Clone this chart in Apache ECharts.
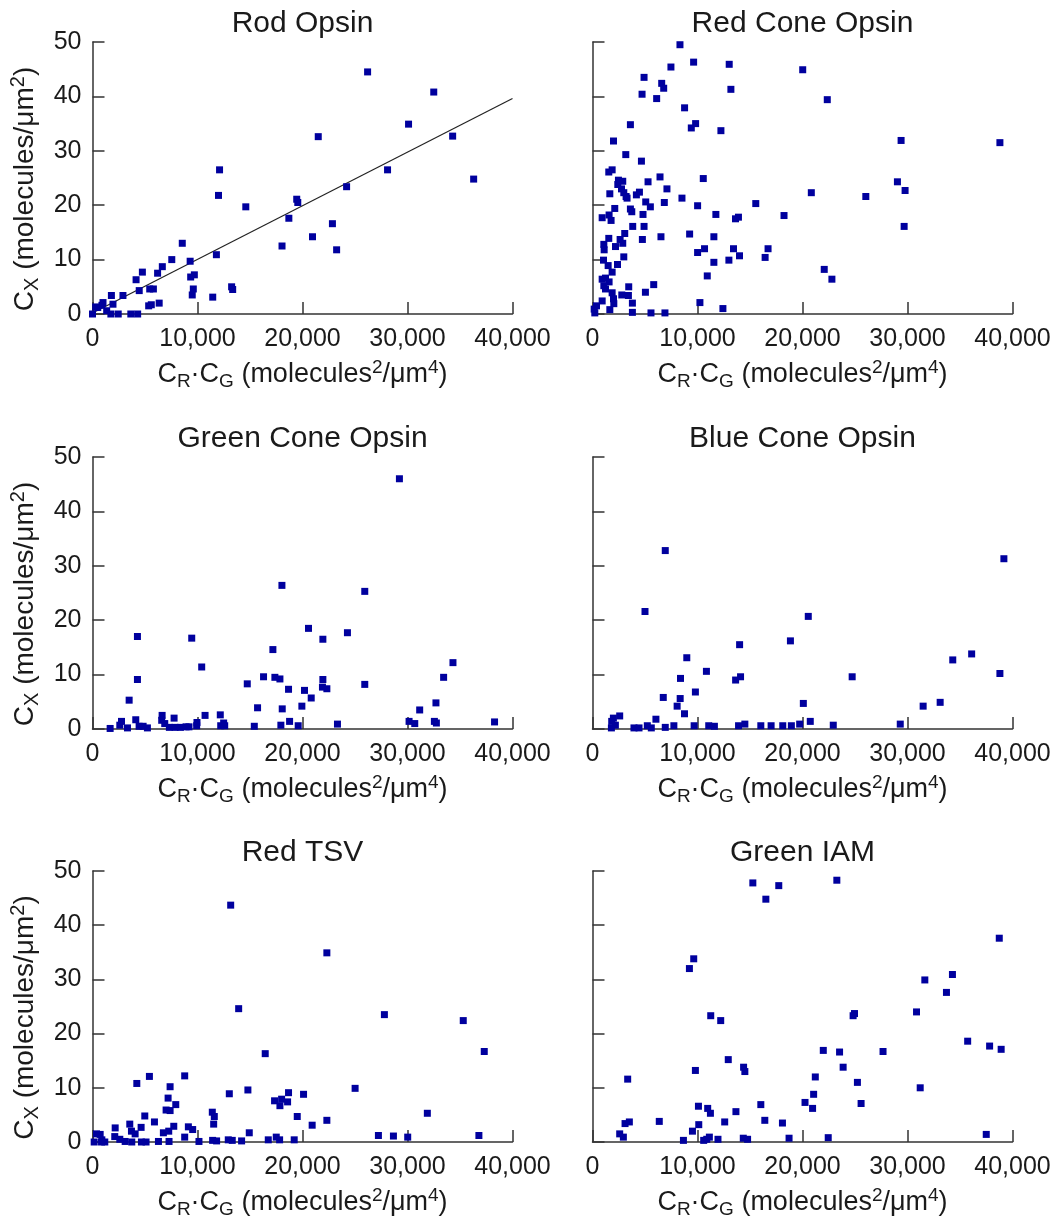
<!DOCTYPE html>
<html>
<head>
<meta charset="utf-8">
<script src="https://cdn.jsdelivr.net/npm/echarts@6/dist/echarts.min.js"></script>
<style>
html,body{margin:0;padding:0;background:#fff;}
#chart{width:1061px;height:1223px;}
</style>
</head>
<body>
<div id="chart"></div>
<script>
// ---- Data ----
const panelTitles = ['Rod Opsin', 'Red Cone Opsin', 'Green Cone Opsin', 'Blue Cone Opsin', 'Red TSV', 'Green IAM'];
const xTicks = [0, 10000, 20000, 30000, 40000];
const yTicks = [0, 10, 20, 30, 40, 50];

const rodOpsin = [[26200,44.5],[32500,40.8],[30100,34.9],[21500,32.6],[34300,32.7],[12100,26.5],[28100,26.5],[36300,24.8],[24200,23.4],[12000,21.8],[19450,21.1],[19550,20.5],[14600,19.7],[18700,17.6],[22850,16.6],[20950,14.2],[18050,12.5],[23250,11.8],[8550,13.0],[11800,10.9],[7550,10.0],[9300,9.7],[6650,8.7],[4750,7.7],[6200,7.5],[4150,6.3],[9700,7.2],[9350,6.8],[4450,4.3],[5450,4.6],[5800,4.6],[9600,4.6],[9500,3.5],[13250,5.0],[13350,4.5],[11450,3.1],[1800,3.4],[2900,3.4],[1950,1.8],[1000,2.1],[900,1.6],[300,1.3],[500,1.2],[5350,1.5],[5600,1.7],[6350,2.0],[0,0],[1350,0.6],[1750,0],[2450,0],[3650,0],[4300,0]];

const rodFit = [[0,0.2],[40000,39.6]];

const redConeOpsin = [[8330,49.5],[9630,46.3],[13020,45.9],[20020,44.9],[7470,45.4],[4910,43.5],[6590,42.4],[6780,41.5],[13180,41.3],[4720,40.4],[6110,39.6],[22360,39.4],[8770,37.9],[3610,34.8],[9820,35.0],[9410,34.2],[12230,33.7],[2000,31.8],[29390,31.9],[38800,31.5],[3170,29.3],[4660,28.1],[1870,26.5],[1550,26.1],[6430,25.2],[10550,24.9],[2470,24.6],[2880,24.4],[5290,24.3],[29040,24.3],[2410,23.8],[2760,23.0],[7090,23.0],[29770,22.7],[2980,22.3],[4470,22.4],[1650,22.1],[20840,22.3],[4180,21.9],[3200,21.6],[26030,21.6],[8520,21.3],[3290,21.3],[5070,20.6],[6840,20.5],[15550,20.3],[5510,19.7],[2120,19.4],[10010,19.9],[3610,19.3],[3740,18.8],[4810,18.3],[11750,18.3],[1580,18.2],[18240,18.1],[920,17.7],[1770,17.2],[13900,17.8],[13620,17.5],[3830,16.1],[4910,16.1],[29680,16.1],[3070,14.8],[9250,14.7],[1550,13.9],[2630,13.7],[4750,13.7],[6520,14.2],[11560,14.2],[1080,12.8],[2880,13.0],[2190,12.4],[1110,11.8],[10670,12.0],[13430,12.0],[16720,12.0],[10010,11.3],[14000,10.7],[16440,10.4],[2980,10.5],[12990,9.9],[1050,9.9],[11560,9.5],[1490,8.9],[2380,9.1],[1870,7.7],[22070,8.2],[22800,6.4],[10930,7.0],[920,6.4],[1240,6.6],[1580,5.9],[1080,5.2],[5830,5.4],[3450,5.0],[1240,4.6],[1870,3.9],[2790,3.5],[3420,3.4],[5040,4.0],[2000,2.8],[920,2.4],[3800,2.0],[10230,2.1],[380,1.5],[1650,0.8],[12420,1.0],[220,0.2],[3800,0.3],[5570,0.2],[6900,0.2],[2030,1.9],[160,0.9]];

const greenConeOpsin = [[29230,46.0],[18040,26.4],[25930,25.3],[20570,18.5],[24280,17.7],[4280,17.0],[9450,16.7],[21940,16.5],[17180,14.6],[34330,12.2],[10400,11.4],[33440,9.5],[16290,9.6],[17370,9.5],[17850,9.2],[4280,9.1],[21940,9.1],[14740,8.3],[25930,8.2],[21900,7.7],[22320,7.4],[18670,7.3],[20190,7.1],[20830,5.7],[3490,5.3],[32710,4.8],[19940,4.2],[15720,3.9],[18070,3.7],[31160,3.5],[6630,2.5],[10720,2.5],[12170,2.6],[7770,2.0],[4120,1.7],[2760,1.4],[6590,1.6],[9950,1.2],[18770,1.4],[30150,1.4],[30690,1.0],[32560,1.4],[32750,1.1],[38290,1.3],[12490,1.1],[23330,0.9],[2600,0.7],[6880,1.0],[17940,0.7],[1680,0.1],[3330,0.2],[4440,0.5],[4820,0.5],[5230,0.2],[7320,0.3],[7860,0.3],[8370,0.3],[8910,0.4],[9190,0.4],[9920,0.6],[12210,0.6],[12590,0.6],[15410,0.5],[19590,0.6]];

const blueConeOpsin = [[6930,32.8],[39180,31.3],[5000,21.6],[20550,20.7],[18850,16.2],[14010,15.5],[36110,13.8],[8980,13.1],[34310,12.7],[10850,10.6],[38800,10.2],[24730,9.6],[14100,9.6],[13630,9.0],[8380,9.3],[9800,6.8],[6740,5.8],[8350,5.6],[20080,4.7],[8060,4.2],[31490,4.2],[33110,4.9],[8760,2.8],[6040,1.8],[2590,2.4],[1990,2.0],[1830,1.4],[2180,0.7],[1800,0.2],[3950,0.2],[4430,0.2],[5220,0.6],[5600,0.2],[6930,0.3],[7750,0.6],[9680,0.6],[11070,0.6],[11610,0.5],[13910,0.6],[14510,0.9],[16030,0.6],[17010,0.6],[18120,0.6],[18940,0.6],[19730,0.9],[20740,1.4],[22930,0.7],[29310,0.9]];

const redTSV = [[13160,43.7],[22320,34.9],[13920,24.6],[27800,23.5],[35310,22.4],[37310,16.7],[16450,16.3],[5420,12.1],[8780,12.2],[4220,10.8],[7390,10.2],[14800,9.6],[25010,9.9],[13030,8.9],[20100,8.8],[18670,9.1],[7200,8.1],[17340,7.6],[18010,7.9],[18580,7.4],[17850,6.7],[7930,6.9],[7010,5.9],[7390,5.8],[11410,5.5],[11600,4.7],[31890,5.3],[4980,4.8],[19500,4.7],[11540,3.3],[5900,3.7],[22320,4.0],[20920,3.1],[3550,3.3],[2160,2.6],[4630,2.7],[7740,2.9],[9130,2.8],[9540,2.3],[3710,2.0],[4060,1.5],[6750,1.7],[7260,2.0],[14930,1.7],[380,1.5],[730,1.4],[2120,1.0],[2600,0.5],[8780,0.9],[27230,1.2],[28660,1.1],[30020,0.9],[36800,1.2],[17500,0.9],[890,0.4],[160,0],[1170,0],[3110,0.1],[3740,0],[4660,0],[5100,0],[6280,0.1],[7290,0.1],[10140,0.1],[11440,0.3],[11820,0.2],[12930,0.4],[13310,0.3],[14200,0.2],[16740,0.4],[17820,0.4],[19210,0.4],[860,0]];

const greenIAM = [[23270,48.3],[15270,47.8],[17740,47.3],[16510,44.8],[38740,37.6],[9640,33.8],[9230,32.0],[34280,30.9],[31650,29.9],[33710,27.6],[30860,24.0],[24950,23.7],[24820,23.3],[11260,23.3],[12210,22.4],[35730,18.6],[37820,17.7],[38920,17.1],[21980,16.9],[23530,16.6],[27670,16.7],[12930,15.2],[23870,13.8],[14390,13.8],[14510,13.0],[9800,13.2],[3350,11.6],[21220,12.0],[25230,11.0],[31210,10.0],[21060,8.8],[20240,7.3],[25580,7.1],[16030,6.9],[10090,6.6],[20960,6.2],[10970,6.2],[11230,5.3],[13660,5.6],[6360,3.8],[12590,3.7],[16410,4.0],[3510,3.7],[3100,3.4],[10120,3.2],[18090,3.5],[9520,2.0],[2590,1.5],[2940,0.9],[37500,1.4],[8660,0.3],[10590,0.3],[11130,0.9],[11950,0.5],[14360,0.7],[14770,0.5],[18720,0.7],[22450,0.8],[10880,0.5]];

const panelData = [rodOpsin, redConeOpsin, greenConeOpsin, blueConeOpsin, redTSV, greenIAM];

// ---- Layout / styles ----
const FONT = '"Liberation Sans", Arial, Helvetica, sans-serif';
const TXT = '#1a1a1a';
const AXC = '#333333';
const MARK = '#00009E';
const colLeft = [92.5, 592.5];
const rowTop = [42, 457, 871];
const rowH = [272, 272, 271];
const plotW = 420;

const fmt = v => String(v).replace(/\B(?=(\d{3})+(?!\d))/g, ',');

function richFor(size) {
  const s = Math.round(size * 0.7);
  return {
    c:   { fontSize: size, lineHeight: size + 6, fontFamily: FONT, color: TXT, verticalAlign: 'middle' },
    sub: { fontSize: s, lineHeight: s - 2, fontFamily: FONT, color: TXT, verticalAlign: 'bottom' },
    sup: { fontSize: s, lineHeight: s + 4, fontFamily: FONT, color: TXT, verticalAlign: 'top' }
  };
}
const xName = '{c|C}{sub|R}{c|·C}{sub|G}{c| (molecules}{sup|2}{c|/μm}{sup|4}{c|)}';
const yName = '{c|C}{sub|X}{c| (molecules/μm}{sup|2}{c|)}';

const grids = [], xAxes = [], yAxes = [], series = [], titles = [];
for (let i = 0; i < 6; i++) {
  const col = i % 2, row = Math.floor(i / 2);
  grids.push({ left: colLeft[col], top: rowTop[row], width: plotW, height: rowH[row], containLabel: false });
  titles.push({
    text: panelTitles[i], left: colLeft[col] + plotW / 2, top: rowTop[row] - 33,
    textAlign: 'center', padding: 0,
    textStyle: { fontSize: 30, fontWeight: 'normal', fontFamily: FONT, color: TXT }
  });
  xAxes.push({
    type: 'value', gridIndex: i, min: xTicks[0], max: xTicks[xTicks.length - 1],
    interval: xTicks[1] - xTicks[0],
    splitLine: { show: false },
    axisLine: { show: true, onZero: false, lineStyle: { color: AXC, width: 1.5 } },
    axisTick: { show: true, inside: true, length: 12, lineStyle: { color: AXC, width: 1.5 } },
    axisLabel: { show: true, fontSize: 25, fontFamily: FONT, color: TXT, margin: 13, formatter: fmt, showMinLabel: true, showMaxLabel: true, hideOverlap: false },
    name: xName, nameLocation: 'middle', nameGap: 44,
    nameTextStyle: { rich: richFor(27) }
  });
  yAxes.push({
    type: 'value', gridIndex: i, min: yTicks[0], max: yTicks[yTicks.length - 1],
    interval: yTicks[1] - yTicks[0],
    splitLine: { show: false },
    axisLine: { show: true, onZero: false, lineStyle: { color: AXC, width: 1.5 } },
    axisTick: { show: true, inside: true, length: 12, lineStyle: { color: AXC, width: 1.5 } },
    axisLabel: { show: col === 0, fontSize: 25, fontFamily: FONT, color: TXT, margin: 11, padding: [10, 0, 0, 0] },
    name: col === 0 ? yName : '', nameLocation: 'middle', nameGap: 50,
    nameTextStyle: { rich: richFor(28), padding: [0, 22, 0, 0] }
  });
  series.push({
    type: 'scatter', xAxisIndex: i, yAxisIndex: i, data: panelData[i],
    symbol: 'rect', symbolSize: 7, itemStyle: { color: MARK, opacity: 1 }, z: 3
  });
}
series.push({
  type: 'line', xAxisIndex: 0, yAxisIndex: 0, data: rodFit, symbol: 'none',
  lineStyle: { color: '#222', width: 1.2 }, z: 2
});

const chart = echarts.init(document.getElementById('chart'), null, { renderer: 'canvas' });
chart.setOption({
  animation: false,
  backgroundColor: '#fff',
  title: titles,
  grid: grids,
  xAxis: xAxes,
  yAxis: yAxes,
  series: series
});
</script>
</body>
</html>
